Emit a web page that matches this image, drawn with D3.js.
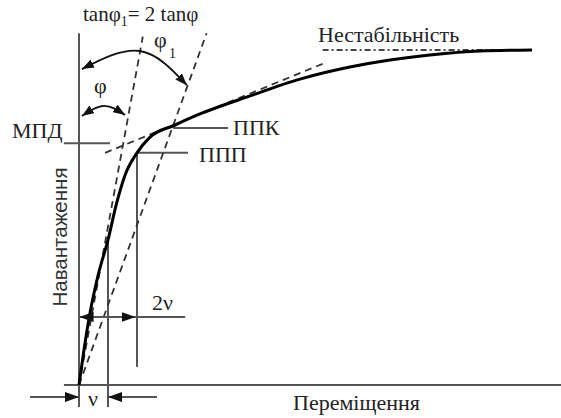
<!DOCTYPE html>
<html>
<head>
<meta charset="utf-8">
<script src="https://cdn.jsdelivr.net/npm/d3@7"></script>
<style>
  html, body { margin: 0; padding: 0; background: #fff; }
  svg { display: block; }
  .serif { font-family: "Liberation Serif", "DejaVu Serif", serif; fill: #222; }
  .sans { font-family: "Liberation Sans", Arial, sans-serif; fill: #333; }
</style>
</head>
<body>
<svg id="chart" width="561" height="418"></svg>
<script>
// Load–displacement curve (displacement in units of ν, load in % of instability load)
const displacement = [0, 0.17, 0.38, 0.66, 1.0, 1.28, 1.59, 2.0, 2.45, 3.31, 4.17, 5.9, 7.62, 9.34, 10.72, 12.1, 13.83, 15.62];
const load         = [0, 10.4, 21.5, 32.8, 43.3, 53.7, 62.7, 69.3, 74.0, 77.6, 80.9, 86.3, 91.3, 94.9, 97.0, 98.5, 99.7, 100];

// Construction lines [x, y] endpoints
const tangentPhi  = [[0, 0], [2.2, 104]];    // initial tangent, angle φ
const tangentPhi1 = [[0, 0], [4.4, 105]];    // tanφ1 = 2 tanφ
const tangentUpper = [[0.9, 69.3], [8.55, 96.4]];
const instability = [[8.4, 100], [14.5, 100]];

// Characteristic levels
const mpdLoad = 72.2;          // МПД
const ppkPoint = [3.25, 76.7]; // ППК
const pppPoint = [2.0, 69.3];  // ППП
const nu = 1, twoNu = 2;

const svg = d3.select("#chart");
const x = d3.scaleLinear().domain([0, 16.62]).range([79, 561]);
const y = d3.scaleLinear().domain([0, 100]).range([385, 50]);

// arrow markers
const defs = svg.append("defs");
function marker(id, len, wid) {
  defs.append("marker")
    .attr("id", id).attr("markerUnits", "userSpaceOnUse")
    .attr("viewBox", `0 0 ${len} ${wid}`)
    .attr("markerWidth", len).attr("markerHeight", wid)
    .attr("refX", len).attr("refY", wid / 2)
    .attr("orient", "auto-start-reverse")
    .append("path").attr("d", `M0,0L${len},${wid / 2}L0,${wid}Z`).attr("fill", "#111");
}
marker("arrowBig", 14, 10);
marker("arrowArc", 12, 9);

const line = d3.line().x(d => x(d[0])).y(d => y(d[1]));
const grey = "#555";

// axes
svg.append("line").attr("x1", x(0)).attr("x2", x(0)).attr("y1", y(105)).attr("y2", y(-6.6))
  .attr("stroke", grey).attr("stroke-width", 2);
svg.append("line").attr("x1", x(-0.52)).attr("x2", x(16.62)).attr("y1", y(0)).attr("y2", y(0))
  .attr("stroke", grey).attr("stroke-width", 2);

// ν and 2ν verticals
const loadAt = d3.scaleLinear().domain(displacement).range(load);
svg.append("line").attr("x1", x(nu)).attr("x2", x(nu)).attr("y1", y(loadAt(nu))).attr("y2", y(-6.6))
  .attr("stroke", grey).attr("stroke-width", 2);
svg.append("line").attr("x1", x(twoNu)).attr("x2", x(twoNu)).attr("y1", y(pppPoint[1])).attr("y2", y(5.4))
  .attr("stroke", grey).attr("stroke-width", 2);

// МПД, ППК, ППП leaders
svg.append("line").attr("x1", x(-0.52)).attr("x2", x(1.07)).attr("y1", y(mpdLoad)).attr("y2", y(mpdLoad))
  .attr("stroke", grey).attr("stroke-width", 2);
svg.append("line").attr("x1", x(ppkPoint[0])).attr("x2", x(5.14)).attr("y1", y(ppkPoint[1])).attr("y2", y(ppkPoint[1]))
  .attr("stroke", grey).attr("stroke-width", 2);
svg.append("line").attr("x1", x(pppPoint[0])).attr("x2", x(3.76)).attr("y1", y(pppPoint[1])).attr("y2", y(pppPoint[1]))
  .attr("stroke", grey).attr("stroke-width", 2);

// dashed construction lines
[tangentPhi, tangentPhi1, tangentUpper].forEach(seg => {
  svg.append("path").attr("d", line(seg)).attr("fill", "none")
    .attr("stroke", "#333").attr("stroke-width", 1.8).attr("stroke-dasharray", "7,5");
});
svg.append("path").attr("d", line(instability)).attr("fill", "none")
  .attr("stroke", "#444").attr("stroke-width", 2).attr("stroke-dasharray", "6,3,2,3");

// main curve
svg.append("path")
  .attr("d", d3.line().x(d => x(d[0])).y(d => y(d[1])).curve(d3.curveMonotoneX)(displacement.map((d, i) => [d, load[i]])))
  .attr("fill", "none").attr("stroke", "#000").attr("stroke-width", 3);

// angle arcs (start, apex, end)
const arcPhi1 = [[0.1, 94.3], [2.1, 99.7], [3.72, 89.5]];
const arcPhi  = [[0.1, 80.3], [0.86, 83.3], [1.59, 80.6]];
[arcPhi1, arcPhi].forEach(a => {
  svg.append("path").attr("d", d3.line().x(d => x(d[0])).y(d => y(d[1])).curve(d3.curveNatural)(a))
    .attr("fill", "none").attr("stroke", "#111").attr("stroke-width", 1.8)
    .attr("marker-start", "url(#arrowArc)").attr("marker-end", "url(#arrowArc)");
});

// 2ν dimension
svg.append("line").attr("x1", x(0)).attr("x2", x(3.66)).attr("y1", y(20.3)).attr("y2", y(20.3))
  .attr("stroke", grey).attr("stroke-width", 2);
svg.append("line").attr("x1", x(0.6)).attr("x2", x(0.02)).attr("y1", y(20.3)).attr("y2", y(20.3))
  .attr("stroke", "none").attr("marker-end", "url(#arrowBig)");
svg.append("line").attr("x1", x(1.4)).attr("x2", x(1.95)).attr("y1", y(20.3)).attr("y2", y(20.3))
  .attr("stroke", "none").attr("marker-end", "url(#arrowBig)");

// ν dimension
svg.append("line").attr("x1", x(-1.69)).attr("x2", x(0)).attr("y1", y(-3.6)).attr("y2", y(-3.6))
  .attr("stroke", grey).attr("stroke-width", 2).attr("marker-end", "url(#arrowBig)");
svg.append("line").attr("x1", x(2.69)).attr("x2", x(nu)).attr("y1", y(-3.6)).attr("y2", y(-3.6))
  .attr("stroke", grey).attr("stroke-width", 2).attr("marker-end", "url(#arrowBig)");

// text
const fs = 22;
const t1 = svg.append("text").attr("class", "serif").attr("x", 83).attr("y", 21).attr("font-size", 21);
t1.append("tspan").text("tanφ");
t1.append("tspan").text("1").attr("font-size", 14).attr("dy", 5);
t1.append("tspan").text("= 2 tanφ").attr("dy", -5);

svg.append("text").attr("class", "serif").attr("x", 154).attr("y", 47).attr("font-size", fs).text("φ");
svg.append("text").attr("class", "serif").attr("x", 169).attr("y", 58).attr("font-size", 14).text("1");
svg.append("text").attr("class", "serif").attr("x", 94).attr("y", 93).attr("font-size", fs).text("φ");

svg.append("text").attr("class", "serif").attr("x", 12).attr("y", 138).attr("font-size", fs).text("МПД");
svg.append("text").attr("class", "serif").attr("x", 233).attr("y", 135).attr("font-size", fs).text("ППК");
svg.append("text").attr("class", "serif").attr("x", 199).attr("y", 162).attr("font-size", fs).text("ППП");
svg.append("text").attr("class", "serif").attr("x", 318).attr("y", 42).attr("font-size", fs).text("Нестабільність");
svg.append("text").attr("class", "serif").attr("x", 293).attr("y", 410).attr("font-size", fs).text("Переміщення");
svg.append("text").attr("class", "serif").attr("x", 152).attr("y", 310).attr("font-size", fs).text("2ν");
svg.append("text").attr("class", "serif").attr("x", 88).attr("y", 406).attr("font-size", fs).text("ν");

svg.append("text").attr("class", "sans").attr("font-size", 20.5).attr("text-anchor", "middle")
  .attr("transform", "translate(67,237) rotate(-90)").text("Навантаження");
</script>
</body>
</html>
